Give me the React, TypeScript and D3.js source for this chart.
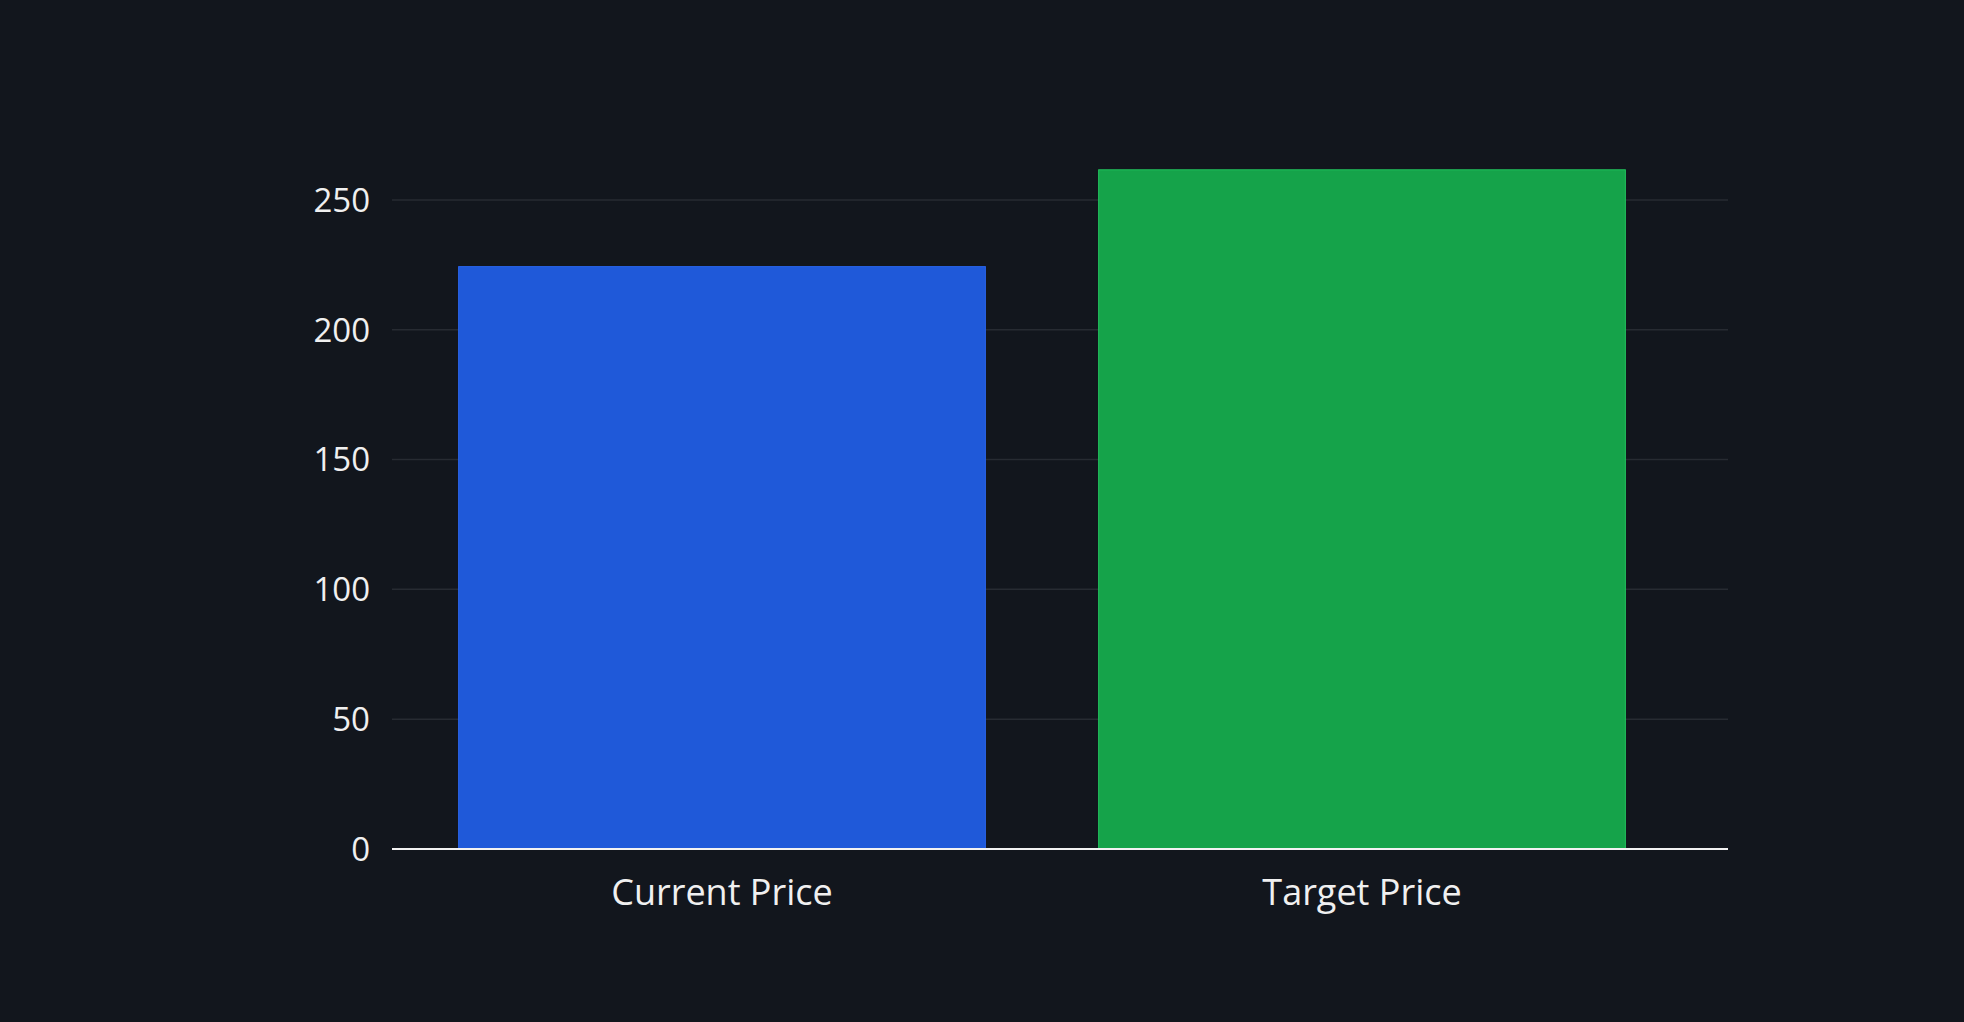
import * as d3 from "d3";
import React, { useEffect, useRef } from "react";

const categories = ["Current Price", "Target Price"];
const prices = [224.3, 261.6];
const barColors = ["#1f59d9", "#15a34a"];
const barStrokes = ["#2a66f0", "#22c55e"];
const yTicks = [0, 50, 100, 150, 200, 250];

const App = () => {
  const svgRef = useRef<SVGSVGElement>(null);

  useEffect(() => {
    document.body.style.margin = "0";
    const width = 1964;
    const height = 1022;

    const svg = d3
      .select(svgRef.current)
      .attr("width", width)
      .attr("height", height)
      .style("display", "block");
    svg.selectAll("*").remove();

    svg
      .append("rect")
      .attr("width", width)
      .attr("height", height)
      .attr("fill", "#12161d");

    // plot area
    const left = 392;
    const right = 1728;

    const y = d3.scaleLinear().domain([0, 275]).range([849, 135]);
    const x = d3
      .scaleBand<string>()
      .domain(categories)
      .range([402, 1682])
      .paddingInner(0.177)
      .paddingOuter(0.0885);

    // Gridlines
    svg
      .selectAll("line.grid")
      .data(yTicks.filter((t) => t > 0))
      .enter()
      .append("line")
      .attr("class", "grid")
      .attr("x1", left)
      .attr("x2", right)
      .attr("y1", (d) => y(d))
      .attr("y2", (d) => y(d))
      .attr("stroke", "#272b32")
      .attr("stroke-width", 1.5);

    // Bars
    svg
      .selectAll("rect.bar")
      .data(prices)
      .enter()
      .append("rect")
      .attr("class", "bar")
      .attr("x", (_, i) => x(categories[i]) ?? 0)
      .attr("width", x.bandwidth())
      .attr("y", (d) => y(d))
      .attr("height", (d) => y(0) - y(d))
      .attr("fill", (_, i) => barColors[i])
      .attr("stroke", (_, i) => barStrokes[i])
      .attr("stroke-width", 1);

    // Zero line
    svg
      .append("line")
      .attr("x1", left)
      .attr("x2", right)
      .attr("y1", y(0))
      .attr("y2", y(0))
      .attr("stroke", "#f2f2f2")
      .attr("stroke-width", 2);

    // Y tick labels
    svg
      .selectAll("text.ytick")
      .data(yTicks)
      .enter()
      .append("text")
      .attr("class", "ytick")
      .attr("x", left - 22)
      .attr("y", (d) => y(d))
      .attr("dy", "0.36em")
      .attr("text-anchor", "end")
      .style("font-family", "'Open Sans', sans-serif")
      .style("font-size", "33px")
      .style("fill", "#f0f0f0")
      .text((d) => d);

    // X labels
    svg
      .selectAll("text.xtick")
      .data(categories)
      .enter()
      .append("text")
      .attr("class", "xtick")
      .attr("x", (d) => (x(d) ?? 0) + x.bandwidth() / 2)
      .attr("y", 905)
      .attr("text-anchor", "middle")
      .style("font-family", "'Open Sans', sans-serif")
      .style("font-size", "36px")
      .style("fill", "#f0f0f0")
      .text((d) => d);
  }, []);

  return <svg ref={svgRef}></svg>;
};

export default App;
